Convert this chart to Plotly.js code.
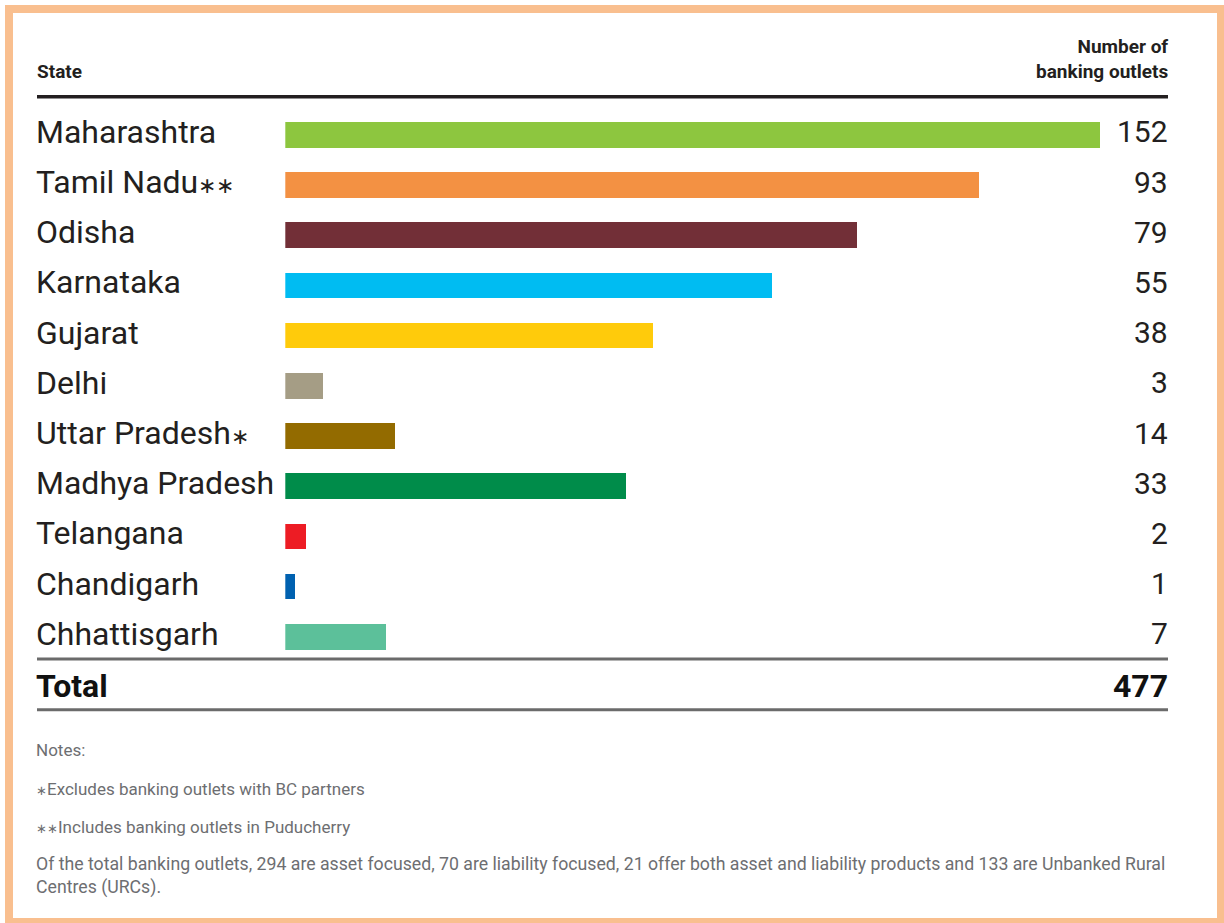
<!DOCTYPE html>
<html>
<head>
<meta charset="utf-8">
<script src="https://cdn.plot.ly/plotly-3.0.1.min.js"></script>
<style>
html,body{margin:0;padding:0;background:#fff;}
#chart{width:1224px;height:923px;}
</style>
</head>
<body>
<div id="chart"></div>
<script>
// ---- data ----
const states = ["Maharashtra", "Tamil Nadu**", "Odisha", "Karnataka", "Gujarat", "Delhi",
  "Uttar Pradesh*", "Madhya Pradesh", "Telangana", "Chandigarh", "Chhattisgarh"];
// number of banking outlets printed at the right
const outlets = [152, 93, 79, 55, 38, 3, 14, 33, 2, 1, 7];
// drawn bar lengths (as drawn in the graphic, on a scale where Maharashtra = 152)
const drawnLength = [152, 129.3, 106.7, 90.7, 68.6, 7.0, 20.5, 63.5, 3.8, 1.9, 18.8];
const barColors = ["#8DC63F", "#F39143", "#722F37", "#00BCF2", "#FFCB0B", "#A59D85",
  "#936B00", "#008C4A", "#ED1C24", "#0061B0", "#5CC09A"];
const headerLeft = "State";
const headerRight = ["Number of", "banking outlets"];
const totalLabel = "Total";
const notes = [
  "Notes:",
  "*Excludes banking outlets with BC partners",
  "**Includes banking outlets in Puducherry",
  "Of the total banking outlets, 294 are asset focused, 70 are liability focused, 21 offer both asset and liability products and 133 are Unbanked Rural<br>Centres (URCs)."
];

// ---- layout helpers ----
const W = 1224, H = 923;
const px = v => v / W;
const py = v => 1 - v / H;
const dark = "#231F20";
const FONT = "Roboto, 'Liberation Sans', sans-serif";
const starSpan = (n, size) => "<span style='font-size:" + size + "px'>" + "\u2217".repeat(n) + "</span>";
const withStars = (t, size) => t.replace(/^(\*+)/, (m) => starSpan(m.length, size))
                                .replace(/(\*+)$/, (m) => starSpan(m.length, size));

const total = outlets.reduce((a, b) => a + b, 0);

const trace = {
  type: "bar",
  orientation: "h",
  x: drawnLength,
  y: states,
  width: 0.51,
  marker: {color: barColors, line: {width: 0}},
  hoverinfo: "skip",
  showlegend: false
};

const annotations = [];
states.forEach((s, i) => {
  annotations.push({xref: "paper", yref: "y", x: px(34), y: s, xanchor: "left", yanchor: "middle",
    text: withStars(s, 22), showarrow: false, font: {family: FONT, size: 32, color: dark}, yshift: 3});
  annotations.push({xref: "paper", yref: "y", x: px(1170), y: s, xanchor: "right", yanchor: "middle",
    text: String(outlets[i]), showarrow: false, font: {family: FONT, size: 30, color: dark}, yshift: 3});
});
// headers
annotations.push({xref: "paper", yref: "paper", x: px(35), y: py(72), xanchor: "left", yanchor: "middle",
  text: "<b>" + headerLeft + "</b>", showarrow: false, font: {family: FONT, size: 19, color: dark}});
annotations.push({xref: "paper", yref: "paper", x: px(1170), y: py(59), xanchor: "right", yanchor: "middle",
  text: headerRight.map(t => "<b>" + t + "</b>").join("<br>"), align: "right", showarrow: false,
  font: {family: FONT, size: 19, color: dark}});
// total
annotations.push({xref: "paper", yref: "paper", x: px(34), y: py(686), xanchor: "left", yanchor: "middle",
  text: "<b>" + totalLabel + "</b>", showarrow: false, font: {family: FONT, size: 32, color: "#111"}});
annotations.push({xref: "paper", yref: "paper", x: px(1170), y: py(686), xanchor: "right", yanchor: "middle",
  text: "<b>" + total + "</b>", showarrow: false, font: {family: FONT, size: 32, color: "#111"}});
// notes
const noteY = [750, 789, 827, 876];
const noteSize = [17, 17, 17, 17.7];
notes.forEach((t, i) => {
  annotations.push({xref: "paper", yref: "paper", x: px(34), y: py(noteY[i]), xanchor: "left", yanchor: "middle",
    text: withStars(t, 13), align: "left", showarrow: false,
    font: {family: FONT, size: noteSize[i], color: "#6D6E71"}});
});

const shapes = [
  // orange frame
  {type: "rect", xref: "paper", yref: "paper", x0: px(9), x1: px(1221), y0: py(9), y1: py(922),
    line: {color: "#F9BF8F", width: 8}, fillcolor: "rgba(0,0,0,0)"},
  // header rule
  {type: "line", xref: "paper", yref: "paper", x0: px(37), x1: px(1168), y0: py(96.7), y1: py(96.7),
    line: {color: dark, width: 3.5}},
  // total rules
  {type: "line", xref: "paper", yref: "paper", x0: px(37), x1: px(1168), y0: py(659), y1: py(659),
    line: {color: "#6B6B6B", width: 3}},
  {type: "line", xref: "paper", yref: "paper", x0: px(37), x1: px(1168), y0: py(709.7), y1: py(709.7),
    line: {color: "#6B6B6B", width: 3}}
];

const layout = {
  width: W, height: H,
  margin: {l: 0, r: 0, t: 0, b: 0, pad: 0},
  paper_bgcolor: "#fff", plot_bgcolor: "#fff",
  xaxis: {domain: [px(285.3), px(1100.3)], range: [0, 152], visible: false, fixedrange: true},
  yaxis: {domain: [py(661.9), py(109.7)], type: "category", categoryorder: "array", categoryarray: states,
    range: [10.5, -0.5], visible: false, fixedrange: true},
  annotations: annotations,
  shapes: shapes,
  showlegend: false,
  bargap: 0
};

Plotly.newPlot("chart", [trace], layout, {displayModeBar: false, staticPlot: true});
</script>
</body>
</html>
